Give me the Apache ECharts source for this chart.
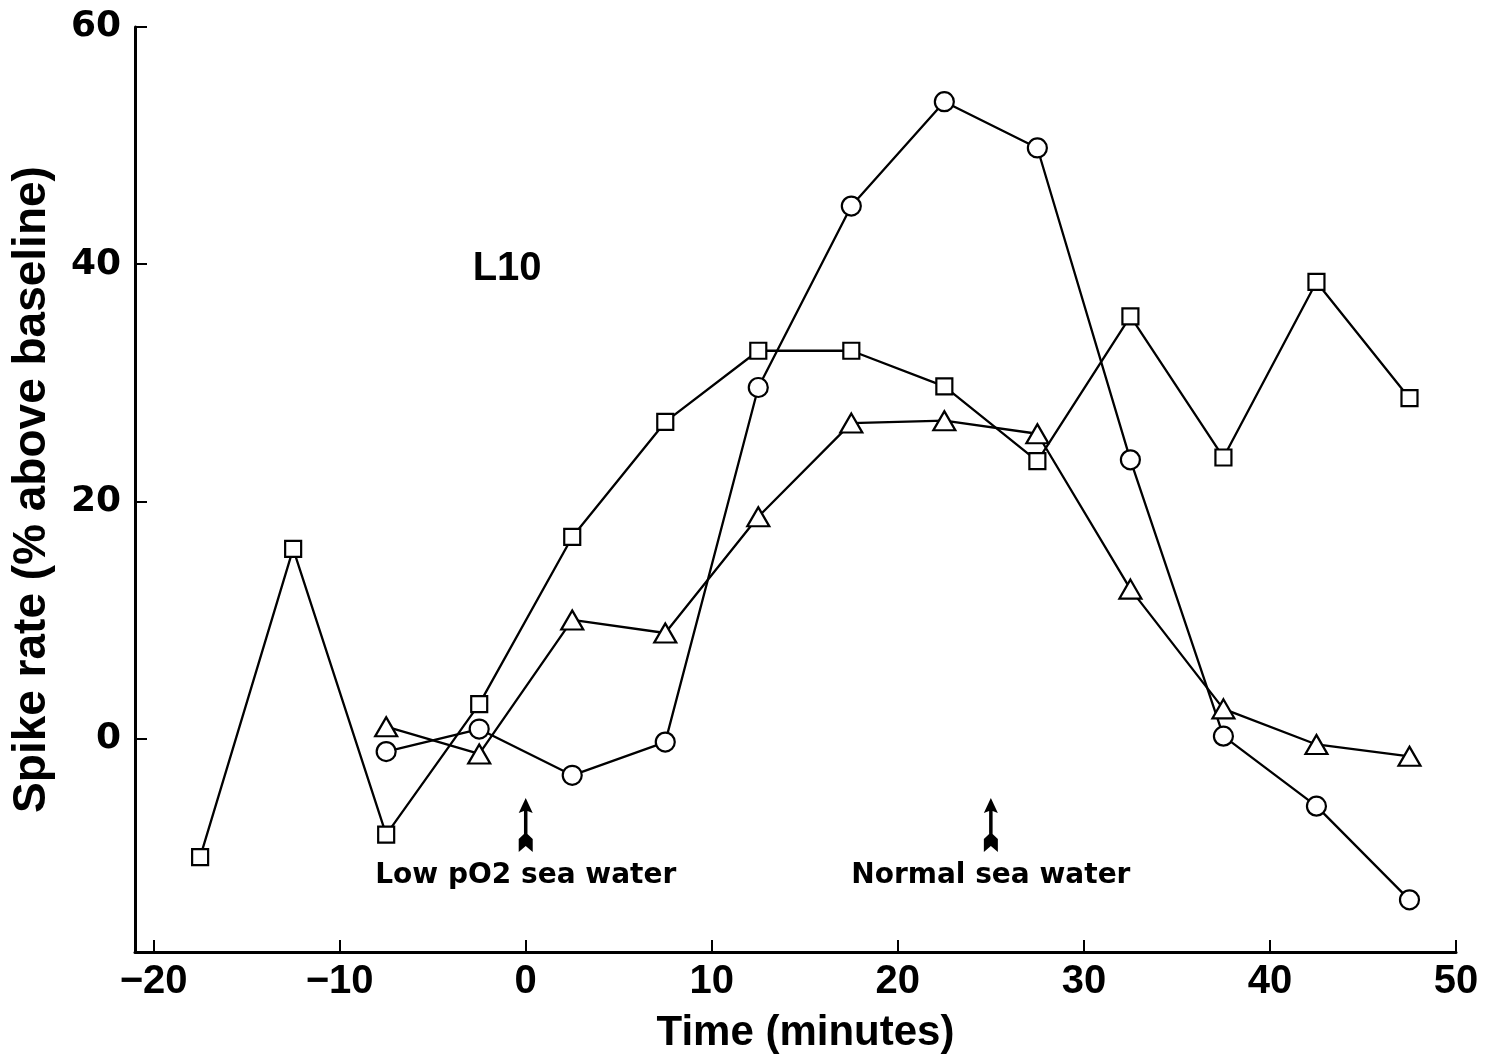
<!DOCTYPE html>
<html>
<head>
<meta charset="utf-8">
<script src="https://cdn.jsdelivr.net/npm/echarts@6/dist/echarts.min.js"></script>
<style>
html,body{margin:0;padding:0;background:#fff;}
#c{width:1490px;height:1059px;}
</style>
</head>
<body>
<div id="c"></div>
<script>
// ---- data ----
var timeMinutes = [-17.5, -12.5, -7.5, -2.5, 2.5, 7.5, 12.5, 17.5, 22.5, 27.5, 32.5, 37.5, 42.5, 47.5];
var squareValues = [-10.0, 16.0, -8.1, 2.9, 17.0, 26.7, 32.7, 32.7, 29.7, 23.4, 35.6, 23.7, 38.5, 28.7];
var circleTimes = [-7.5, -2.5, 2.5, 7.5, 12.5, 17.5, 22.5, 27.5, 32.5, 37.5, 42.5, 47.5];
var circleValues = [-1.1, 0.8, -3.1, -0.3, 29.6, 44.9, 53.7, 49.8, 23.5, 0.2, -5.7, -13.6];
var triangleTimes = [-7.5, -2.5, 2.5, 7.5, 12.5, 17.5, 22.5, 27.5, 32.5, 37.5, 42.5, 47.5];
var triangleValues = [1.0, -1.3, 10.0, 8.9, 18.7, 26.6, 26.8, 25.7, 12.6, 2.5, -0.5, -1.5];
var xTicks = [-20, -10, 0, 10, 20, 30, 40, 50];
var yTicks = [0, 20, 40, 60];
var arrowTimes = [0, 25];
var arrowLabels = ['Low pO2 sea water', 'Normal sea water'];
var arrowLevel = -7.3;
var cellLabel = 'L10';
var cellLabelPos = [-1, 39.6];

function pairs(xs, ys) { return xs.map(function (x, i) { return [x, ys[i]]; }); }
function minus(v) { return String(v).replace('-', '\u2212'); }

var SANS = 'Liberation Sans';
var WIDE = 'DejaVu Sans';
var arrowPath = 'path://M7,0 L13,15 L8.5,13 L8.5,36 L13,41 L13,54 L7,48 L1,54 L1,41 L5.5,36 L5.5,13 L1,15 Z';

var lineStyle = { color: '#000', width: 2.3 };
var itemStyle = { color: '#fff', borderColor: '#000', borderWidth: 2.2, opacity: 1 };

var chart = echarts.init(document.getElementById('c'), null, { renderer: 'canvas' });
chart.setOption({
  backgroundColor: '#fff',
  animation: false,
  grid: { left: 135, right: 34, top: 27, bottom: 105, containLabel: false },
  xAxis: {
    type: 'value', min: -21, max: 50,
    name: 'Time (minutes)', nameLocation: 'middle', nameGap: 60,
    nameTextStyle: { fontFamily: SANS, fontWeight: 'bold', fontSize: 42, color: '#000', padding: [0, 0, 0, 20] },
    axisLine: { onZero: false, lineStyle: { color: '#000', width: 3 } },
    axisTick: { show: true, inside: true, length: 12, lineStyle: { color: '#000', width: 2 }, customValues: xTicks },
    axisLabel: { customValues: xTicks, margin: 10, fontFamily: SANS, fontWeight: 'bold', fontSize: 40, color: '#000', formatter: minus },
    splitLine: { show: false }
  },
  yAxis: {
    type: 'value', min: -18, max: 60,
    name: 'Spike rate (% above baseline)', nameLocation: 'middle', nameGap: 80,
    nameTextStyle: { fontFamily: SANS, fontWeight: 'bold', fontSize: 46, color: '#000' },
    axisLine: { onZero: false, lineStyle: { color: '#000', width: 3 } },
    axisTick: { show: true, inside: true, length: 12, lineStyle: { color: '#000', width: 2 }, customValues: yTicks },
    axisLabel: { customValues: yTicks, margin: 14, fontFamily: WIDE, fontWeight: 'bold', fontSize: 36, color: '#000', formatter: minus },
    splitLine: { show: false }
  },
  series: [
    {
      type: 'line', name: 'squares', data: pairs(timeMinutes, squareValues),
      symbol: 'rect', symbolSize: 16, showAllSymbol: true,
      lineStyle: lineStyle, itemStyle: itemStyle, z: 3
    },
    {
      type: 'line', name: 'circles', data: pairs(circleTimes, circleValues),
      symbol: 'circle', symbolSize: 19, showAllSymbol: true,
      lineStyle: lineStyle, itemStyle: itemStyle, z: 3
    },
    {
      type: 'line', name: 'triangles', data: pairs(triangleTimes, triangleValues),
      symbol: 'triangle', symbolSize: [22, 19], showAllSymbol: true,
      lineStyle: lineStyle, itemStyle: itemStyle, z: 3
    },
    {
      type: 'scatter', name: 'arrows',
      data: arrowTimes.map(function (t, i) { return { value: [t, arrowLevel], label: { formatter: arrowLabels[i] } }; }),
      symbol: arrowPath, symbolSize: [14, 54],
      itemStyle: { color: '#000', opacity: 1 },
      label: { show: true, position: 'bottom', distance: 10, fontFamily: WIDE, fontWeight: 'bold', fontSize: 28, color: '#000' },
      z: 4
    },
    {
      type: 'scatter', name: 'cell',
      data: [cellLabelPos], symbolSize: 0,
      itemStyle: { opacity: 1 },
      label: { show: true, position: 'inside', formatter: cellLabel, fontFamily: SANS, fontWeight: 'bold', fontSize: 40, color: '#000' },
      z: 4
    }
  ]
});
</script>
</body>
</html>
